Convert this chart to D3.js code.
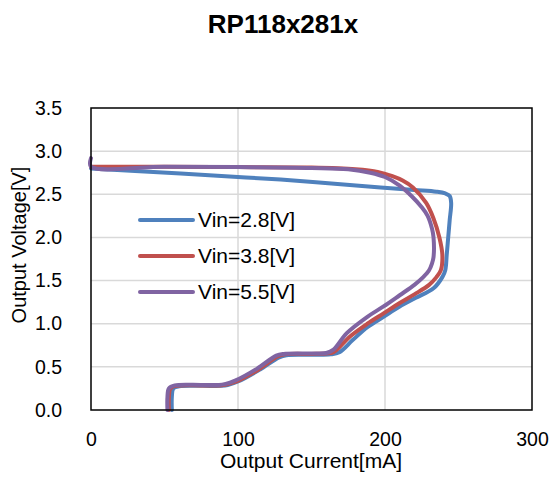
<!DOCTYPE html>
<html>
<head>
<meta charset="utf-8">
<script src="https://cdn.jsdelivr.net/npm/d3@7"></script>
<style>
  body { margin: 0; background: #fff; }
  text { font-family: "Liberation Sans", Arial, sans-serif; fill: #000; }
</style>
</head>
<body>
<div id="chart"></div>
<script>
// Series names and colours
const seriesNames = ["Vin=2.8[V]", "Vin=3.8[V]", "Vin=5.5[V]"];
const seriesColors = ["#4F81BD", "#C0504D", "#8064A2"];

// Output current [mA] / output voltage [V] pairs
const vin28Current = [0, 30, 61, 129, 197, 220, 235, 241, 244, 245, 244, 243, 242, 241, 239, 233, 221, 210, 199, 188, 178, 169, 163, 150, 133, 128, 115, 100, 93, 89, 75, 60, 56, 55, 55];
const vin28Voltage = [2.80, 2.77, 2.74, 2.67, 2.58, 2.55, 2.53, 2.51, 2.48, 2.40, 2.20, 2.00, 1.80, 1.62, 1.54, 1.41, 1.30, 1.20, 1.08, 0.96, 0.81, 0.67, 0.645, 0.64, 0.635, 0.61, 0.47, 0.33, 0.29, 0.28, 0.28, 0.275, 0.25, 0.15, 0.0];

const vin38Current = [0, 50, 100, 150, 180, 195, 205, 212, 219, 228, 233, 237, 239, 238, 235, 230, 220, 210, 199, 188, 176, 165, 160, 150, 132, 127, 114, 99, 92, 88, 75, 58, 54, 53, 53];
const vin38Voltage = [2.82, 2.82, 2.815, 2.81, 2.79, 2.76, 2.71, 2.66, 2.58, 2.40, 2.22, 2.00, 1.80, 1.62, 1.54, 1.45, 1.34, 1.24, 1.12, 1.00, 0.85, 0.67, 0.655, 0.65, 0.645, 0.62, 0.47, 0.33, 0.295, 0.285, 0.285, 0.28, 0.25, 0.15, 0.0];

const vin55Current = [0, 0, 50, 100, 150, 175, 190, 200, 210, 218, 225, 229, 232, 233, 233, 232, 230, 226, 220, 210, 199, 188, 174, 165, 160, 150, 131, 126, 113, 98, 91, 87, 75, 57, 53, 52, 52];
const vin55Voltage = [2.92, 2.82, 2.82, 2.815, 2.805, 2.79, 2.75, 2.70, 2.60, 2.48, 2.35, 2.25, 2.10, 2.00, 1.77, 1.70, 1.62, 1.54, 1.45, 1.33, 1.20, 1.08, 0.89, 0.70, 0.66, 0.655, 0.65, 0.63, 0.48, 0.34, 0.30, 0.29, 0.29, 0.285, 0.25, 0.15, 0.0];

// Axis ticks
const xTicks = [0, 100, 200, 300];
const yTicks = [0, 0.5, 1.0, 1.5, 2.0, 2.5, 3.0, 3.5];

const seriesCurrent = [vin28Current, vin38Current, vin55Current];
const seriesVoltage = [vin28Voltage, vin38Voltage, vin55Voltage];

const width = 553;
const height = 477;
const margin = { top: 108, right: 21, bottom: 67, left: 91 };

const svg = d3.select("#chart")
    .append("svg")
    .attr("width", width)
    .attr("height", height);

const xScale = d3.scaleLinear()
    .domain([0, 300])
    .range([margin.left, width - margin.right]);

const yScale = d3.scaleLinear()
    .domain([0, 3.5])
    .range([height - margin.bottom, margin.top]);

// Gridlines
svg.append("g")
    .selectAll("line")
    .data(yTicks.slice(1, -1))
    .enter()
    .append("line")
    .attr("x1", xScale(0))
    .attr("x2", xScale(300))
    .attr("y1", (d) => yScale(d))
    .attr("y2", (d) => yScale(d))
    .attr("stroke", "#d9d9d9")
    .attr("stroke-width", 1.5);

svg.append("g")
    .selectAll("line")
    .data(xTicks.slice(1, -1))
    .enter()
    .append("line")
    .attr("x1", (d) => xScale(d))
    .attr("x2", (d) => xScale(d))
    .attr("y1", yScale(0))
    .attr("y2", yScale(3.5))
    .attr("stroke", "#d9d9d9")
    .attr("stroke-width", 1.5);

// Tick labels via axes (no tick marks, no domain)
const xAxis = svg.append("g")
    .attr("transform", `translate(0,${height - margin.bottom})`)
    .call(d3.axisBottom(xScale).tickValues(xTicks).tickSize(0).tickPadding(22).tickFormat(d3.format("d")));
xAxis.select(".domain").remove();
xAxis.selectAll("text").style("font-size", "19.5px").attr("fill", "#000");

const yAxis = svg.append("g")
    .attr("transform", `translate(${margin.left},0)`)
    .call(d3.axisLeft(yScale).tickValues(yTicks).tickSize(0).tickPadding(29).tickFormat(d3.format(".1f")));
yAxis.select(".domain").remove();
yAxis.selectAll("text").style("font-size", "19.5px").attr("fill", "#000");

// Curves
const line = d3.line()
    .x((d) => xScale(d[0]))
    .y((d) => yScale(d[1]))
    .curve(d3.curveCatmullRom.alpha(0.5));

seriesNames.forEach((name, i) => {
    const pts = seriesCurrent[i].map((c, j) => [c, seriesVoltage[i][j]]);
    svg.append("path")
        .datum(pts)
        .attr("d", line)
        .attr("fill", "none")
        .attr("stroke", seriesColors[i])
        .attr("stroke-width", 4)
        .attr("stroke-linejoin", "round")
        .attr("stroke-linecap", "round");
});

// Plot frame
svg.append("rect")
    .attr("x", xScale(0))
    .attr("y", yScale(3.5))
    .attr("width", xScale(300) - xScale(0))
    .attr("height", yScale(0) - yScale(3.5))
    .attr("fill", "none")
    .attr("stroke", "#000")
    .attr("stroke-width", 1.5);

// Legend
const legend = svg.append("g");
seriesNames.forEach((name, i) => {
    const y = 220 + i * 36;
    legend.append("line")
        .attr("x1", 140).attr("x2", 193)
        .attr("y1", y).attr("y2", y)
        .attr("stroke", seriesColors[i])
        .attr("stroke-width", 4)
        .attr("stroke-linecap", "round");
    legend.append("text")
        .attr("x", 198)
        .attr("y", y)
        .attr("dy", "0.35em")
        .style("font-size", "21px")
        .text(name);
});

// Title
svg.append("text")
    .attr("x", 283)
    .attr("y", 24)
    .attr("dy", "0.35em")
    .attr("text-anchor", "middle")
    .style("font-size", "26px")
    .style("font-weight", "bold")
    .text("RP118x281x");

// Axis titles
svg.append("text")
    .attr("x", 311)
    .attr("y", 461)
    .attr("dy", "0.35em")
    .attr("text-anchor", "middle")
    .style("font-size", "21px")
    .text("Output Current[mA]");

svg.append("text")
    .attr("transform", "translate(19,245) rotate(-90)")
    .attr("dy", "0.35em")
    .attr("text-anchor", "middle")
    .style("font-size", "20px")
    .text("Output Voltage[V]");
</script>
</body>
</html>
